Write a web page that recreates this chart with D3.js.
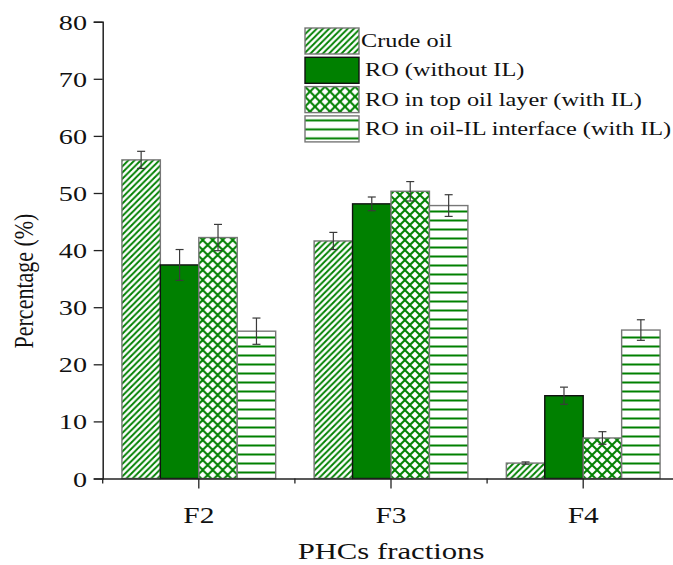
<!DOCTYPE html>
<html>
<head>
<meta charset="utf-8">
<script src="https://cdn.jsdelivr.net/npm/d3@7"></script>
<style>
  html, body { margin: 0; padding: 0; background: #fff; }
  svg { display: block; }
  text { font-family: "Liberation Serif", "Times New Roman", serif; fill: #111; }
</style>
</head>
<body>
<svg id="chart" width="673" height="565"></svg>
<script>
// PHC fraction distribution per sample type
const fractions = ["F2", "F3", "F4"];
const seriesNames = [
  "Crude oil",
  "RO (without IL)",
  "RO in top oil layer (with IL)",
  "RO in oil-IL interface (with IL)"
];
const crudeOil   = [55.8, 41.6, 2.7];
const roNoIL     = [37.4, 48.1, 14.5];
const roTopLayer = [42.2, 50.3, 7.1];
const roInterface= [25.8, 47.8, 26.0];
const crudeErr   = [1.5, 1.5, 0.2];
const roNoILErr  = [2.7, 1.2, 1.5];
const roTopErr   = [2.3, 1.7, 1.1];
const roIntErr   = [2.3, 1.9, 1.8];
const yTicks = [0, 10, 20, 30, 40, 50, 60, 70, 80];

const seriesValues = [crudeOil, roNoIL, roTopLayer, roInterface];
const seriesErrors = [crudeErr, roNoILErr, roTopErr, roIntErr];

const GREEN = "#008000";
const SX = 1.28; // horizontal stretch of the lettering

const svg = d3.select("#chart");

// hatch patterns
const defs = svg.append("defs");
const diag = defs.append("pattern").attr("id", "pat-diag")
  .attr("patternUnits", "userSpaceOnUse").attr("width", 6.2).attr("height", 6.2);
diag.append("rect").attr("width", 6.2).attr("height", 6.2).attr("fill", "#fff");
diag.append("path").attr("d", "M0,6.2 L6.2,0 M-1.5,1.5 L1.5,-1.5 M4.7,7.7 L7.7,4.7")
  .attr("stroke", GREEN).attr("stroke-width", 1.9);

const cross = defs.append("pattern").attr("id", "pat-cross")
  .attr("patternUnits", "userSpaceOnUse").attr("width", 10).attr("height", 10);
cross.append("rect").attr("width", 10).attr("height", 10).attr("fill", "#fff");
cross.append("path").attr("d", "M0,0 L10,10 M0,10 L10,0")
  .attr("stroke", GREEN).attr("stroke-width", 2);

const horiz = defs.append("pattern").attr("id", "pat-horiz")
  .attr("patternUnits", "userSpaceOnUse").attr("width", 9).attr("height", 9);
horiz.append("rect").attr("width", 9).attr("height", 9).attr("fill", "#fff");
horiz.append("path").attr("d", "M0,4.5 L9,4.5")
  .attr("stroke", GREEN).attr("stroke-width", 2);

const fills = ["url(#pat-diag)", GREEN, "url(#pat-cross)", "url(#pat-horiz)"];
const strokes = ["#777", "#111", "#777", "#777"];

// scales
const x = d3.scaleBand().domain(fractions).range([102.7, 679.3]).paddingInner(0).paddingOuter(0);
const xs = d3.scaleBand().domain(d3.range(seriesNames.length))
  .range([0, x.bandwidth()]).paddingInner(0).paddingOuter(0.5);
const y = d3.scaleLinear().domain([0, 80]).range([478.5, 21.7]);

// bars
const groups = svg.append("g").selectAll("g").data(fractions).join("g")
  .attr("transform", d => `translate(${x(d)},0)`);

groups.each(function(f, fi) {
  const g = d3.select(this);
  seriesValues.forEach((vals, si) => {
    g.append("rect")
      .attr("x", xs(si)).attr("width", xs.bandwidth())
      .attr("y", y(vals[fi])).attr("height", y(0) - y(vals[fi]))
      .attr("fill", fills[si]).attr("stroke", strokes[si]).attr("stroke-width", 1.4);
  });
  // error bars
  seriesValues.forEach((vals, si) => {
    const cx = xs(si) + xs.bandwidth() / 2;
    const v = vals[fi], e = seriesErrors[si][fi];
    const eb = g.append("g").attr("stroke", "#3a3a3a").attr("stroke-width", 1.2);
    eb.append("line").attr("x1", cx).attr("x2", cx).attr("y1", y(v + e)).attr("y2", y(v - e));
    eb.append("line").attr("x1", cx - 4).attr("x2", cx + 4).attr("y1", y(v + e)).attr("y2", y(v + e));
    eb.append("line").attr("x1", cx - 4).attr("x2", cx + 4).attr("y1", y(v - e)).attr("y2", y(v - e));
  });
});

// y axis
const yAxis = svg.append("g").attr("transform", "translate(102.7,0)")
  .call(d3.axisLeft(y).tickValues(yTicks).tickSize(9).tickFormat(""));
yAxis.select(".domain").attr("stroke", "#222").attr("stroke-width", 1.5);
yAxis.selectAll(".tick line").attr("stroke", "#222").attr("stroke-width", 1.3);
svg.append("g").selectAll("text").data(yTicks).join("text")
  .attr("transform", d => `translate(87,${y(d) + 8}) scale(${SX},1)`)
  .attr("text-anchor", "end").attr("font-size", 22).text(d => d);

// x axis
const xAxis = svg.append("g").attr("transform", "translate(0,478.5)")
  .call(d3.axisBottom(x).tickSize(10).tickSizeOuter(0).tickFormat(""));
xAxis.select(".domain").attr("stroke", "#222").attr("stroke-width", 1.5);
xAxis.selectAll(".tick line").attr("stroke", "#222").attr("stroke-width", 1.3);
// minor ticks on the band boundaries
xAxis.append("g").selectAll("line").data(fractions).join("line")
  .attr("x1", d => x(d)).attr("x2", d => x(d)).attr("y1", 0).attr("y2", 5)
  .attr("stroke", "#222").attr("stroke-width", 1.3);
svg.append("g").selectAll("text").data(fractions).join("text")
  .attr("transform", d => `translate(${x(d) + x.bandwidth() / 2},522.5) scale(${SX},1)`)
  .attr("text-anchor", "middle").attr("font-size", 23).text(d => d);

// axis titles
svg.append("text")
  .attr("transform", `translate(391,559) scale(${SX},1)`)
  .attr("text-anchor", "middle").attr("font-size", 24).text("PHCs fractions");
svg.append("text")
  .attr("transform", `translate(33,281) scale(${SX},1) rotate(-90)`)
  .attr("text-anchor", "middle").attr("font-size", 22).text("Percentage (%)");

// legend
const legend = svg.append("g").selectAll("g").data(seriesNames).join("g")
  .attr("transform", (d, i) => `translate(305,${28 + i * 29.3})`);
legend.append("rect").attr("width", 54).attr("height", 26)
  .attr("fill", (d, i) => fills[i]).attr("stroke", (d, i) => strokes[i]).attr("stroke-width", 1.4);
legend.append("text")
  .attr("transform", (d, i) => `translate(${i === 0 ? 56 : 60},19) scale(${SX},1)`)
  .attr("font-size", 19).text(d => d);
</script>
</body>
</html>
